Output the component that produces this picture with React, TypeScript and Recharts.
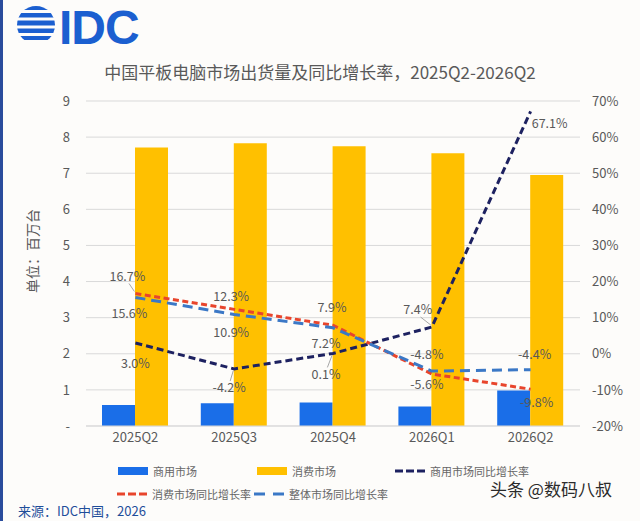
import React from 'react';
import { ComposedChart, Bar, Line, XAxis, YAxis, CartesianGrid, LabelList } from 'recharts';

const categories = ['2025Q2', '2025Q3', '2025Q4', '2026Q1', '2026Q2'];
const commercialUnits = [0.58, 0.63, 0.65, 0.54, 0.98];
const consumerUnits = [7.71, 7.83, 7.75, 7.55, 6.95];
const commercialYoY = [3.0, -4.2, 0.1, 7.4, 67.1];
const consumerYoY = [16.7, 12.3, 7.9, -5.6, -9.8];
const overallYoY = [15.6, 10.9, 7.2, -4.8, -4.4];
const leftTicks = [0, 1, 2, 3, 4, 5, 6, 7, 8, 9];
const rightTicks = [-20, -10, 0, 10, 20, 30, 40, 50, 60, 70];

const data = categories.map((c, i) => ({
  name: c,
  commercial: commercialUnits[i],
  consumer: consumerUnits[i],
  commercialYoY: commercialYoY[i],
  consumerYoY: consumerYoY[i],
  overallYoY: overallYoY[i],
}));

const FONT = '"Noto Sans CJK SC", "Noto Sans", sans-serif';
const GRAY = '#595959';
const C_BLUE = '#1a6ee8';
const C_YELLOW = '#ffc000';
const C_NAVY = '#1d2160';
const C_RED = '#e8452c';
const C_LBLUE = '#3b78c6';

// label placement (dx, dy relative to point) and leader flags
const commercialLabelPos = [[0, 21, 0], [-5, 19, 1], [-7, 21, 1], [-14, -17, 1], [19, 12, 0]];
const consumerLabelPos = [[-8, -17, 1], [-3, -13, 0], [-1, -18, 0], [-5, 11, 0], [6, 13, 0]];
const overallLabelPos = [[-6, 16, 0], [-3, 18, 0], [-7, 16, 0], [-5, -16, 0], [4, -15, 0]];

const makeLabel = (pos: number[][]) => (props: any) => {
  const { x, y, value, index } = props;
  const [dx, dy, leader] = pos[index];
  const lx = x + dx;
  const ly = y + dy;
  const sy = dy > 0 ? 1 : -1;
  return (
    <g key={`lbl-${index}`}>
      {leader ? (
        <line
          x1={lx + dx * -0.2}
          y1={ly - sy * 7}
          x2={x - 1}
          y2={y + sy * 2}
          stroke="#a6a6a6"
          strokeWidth={1}
        />
      ) : null}
      <text x={lx} y={ly} dy="0.35em" textAnchor="middle" fontSize={12.5} fill={GRAY} fontFamily={FONT}>
        {`${Number(value).toFixed(1)}%`}
      </text>
    </g>
  );
};

const Logo = () => (
  <svg width={180} height={56} style={{ position: 'absolute', left: 14, top: 0 }}>
    <defs>
      <clipPath id="globe">
        <circle cx={22} cy={25} r={19} />
      </clipPath>
    </defs>
    <g clipPath="url(#globe)" fill="#1b5fd0">
      <rect x={0} y={6} width={44} height={4} rx={2} />
      <rect x={0} y={13} width={44} height={4.5} rx={2} />
      <rect x={0} y={20.5} width={44} height={5} rx={2} />
      <rect x={0} y={28.5} width={44} height={4.5} rx={2} />
      <rect x={0} y={36} width={44} height={4} rx={2} />
    </g>
    <text x={45} y={44} fontSize={48} fill="#1b5fd0" fontFamily='"Liberation Sans", Arial, sans-serif' fontWeight={700} letterSpacing={-1}>
      IDC
    </text>
  </svg>
);

const legendRow1 = [
  { label: '商用市场', kind: 'bar', color: C_BLUE, left: 118 },
  { label: '消费市场', kind: 'bar', color: C_YELLOW, left: 257 },
  { label: '商用市场同比增长率', kind: 'dash3', color: C_NAVY, left: 395 },
];
const legendRow2 = [
  { label: '消费市场同比增长率', kind: 'dash3', color: C_RED, left: 117 },
  { label: '整体市场同比增长率', kind: 'dash2', color: C_LBLUE, left: 254 },
];

const Swatch = ({ kind, color }: { kind: string; color: string }) => (
  <svg width={30} height={10} style={{ marginRight: 5 }}>
    {kind === 'bar' ? (
      <rect x={0} y={1} width={30} height={8} fill={color} />
    ) : kind === 'dash3' ? (
      <line x1={0} y1={5} x2={30} y2={5} stroke={color} strokeWidth={3} strokeDasharray="8 3" />
    ) : (
      <line x1={0} y1={5} x2={30} y2={5} stroke={color} strokeWidth={3} strokeDasharray="11 8" />
    )}
  </svg>
);

const LegendRow = ({ items, top }: { items: any[]; top: number }) => (
  <>
    {items.map((it) => (
      <div
        key={it.label}
        style={{
          position: 'absolute',
          left: it.left,
          top,
          display: 'flex',
          alignItems: 'center',
          fontSize: 11,
          color: '#666666',
          fontFamily: FONT,
          whiteSpace: 'nowrap',
          lineHeight: '16px',
        }}
      >
        <Swatch kind={it.kind} color={it.color} />
        {it.label}
      </div>
    ))}
  </>
);

export default function App() {
  return (
    <div
      style={{
        position: 'absolute',
        left: 0,
        top: 0,
        width: 640,
        height: 521,
        background: '#fdfcfa',
        overflow: 'hidden',
        fontFamily: FONT,
      }}
    >
      <div style={{ position: 'absolute', left: 0, top: 0, width: 3, height: 521, background: '#2a4c9c' }} />
      <Logo />
      <div
        style={{
          position: 'absolute',
          left: 0,
          width: 640,
          top: 60,
          textAlign: 'center',
          fontSize: 17,
          color: GRAY,
          lineHeight: '24px',
        }}
      >
        中国平板电脑市场出货量及同比增长率，2025Q2-2026Q2
      </div>
      <div style={{ position: 'absolute', left: 0, top: 0 }}>
        <ComposedChart
          width={640}
          height={521}
          data={data}
          margin={{ top: 101, right: 0, left: 46, bottom: 65 }}
          barGap={0}
        >
          <CartesianGrid yAxisId="left" vertical={false} stroke="#d9d9d9" />
          <XAxis
            dataKey="name"
            axisLine={{ stroke: '#d9d9d9' }}
            tickLine={false}
            tickSize={0}
            tickMargin={7}
            height={30}
            tick={{ fontSize: 13, fill: GRAY, fontFamily: FONT }}
          />
          <YAxis
            yAxisId="left"
            domain={[0, 9]}
            ticks={leftTicks}
            interval={0}
            axisLine={false}
            tickLine={false}
            tickSize={0}
            tickMargin={16}
            width={40}
            tick={{ fontSize: 13, fill: GRAY, fontFamily: FONT }}
            tickFormatter={(v: number) => (v === 0 ? '-' : String(v))}
            label={(p: any) => (
              <text
                x={33}
                y={251}
                transform="rotate(-90 33 251)"
                textAnchor="middle"
                dy="0.35em"
                fontSize={14}
                fill={GRAY}
                fontFamily={FONT}
              >
                单位：百万台
              </text>
            )}
          />
          <YAxis
            yAxisId="right"
            orientation="right"
            domain={[-20, 70]}
            ticks={rightTicks}
            interval={0}
            axisLine={false}
            tickLine={false}
            tickSize={0}
            tickMargin={12}
            width={60}
            tick={{ fontSize: 13, fill: GRAY, fontFamily: FONT, textAnchor: 'start' }}
            tickFormatter={(v: number) => `${v}%`}
          />
          <Bar yAxisId="left" dataKey="commercial" fill={C_BLUE} barSize={33} isAnimationActive={false} />
          <Bar yAxisId="left" dataKey="consumer" fill={C_YELLOW} barSize={33} isAnimationActive={false} />
          <Line
            yAxisId="right"
            dataKey="commercialYoY"
            stroke={C_NAVY}
            strokeWidth={3}
            strokeDasharray="7 4"
            dot={false}
            activeDot={false}
            isAnimationActive={false}
          >
            <LabelList dataKey="commercialYoY" content={makeLabel(commercialLabelPos)} />
          </Line>
          <Line
            yAxisId="right"
            dataKey="consumerYoY"
            stroke={C_RED}
            strokeWidth={3}
            strokeDasharray="6 3.5"
            dot={false}
            activeDot={false}
            isAnimationActive={false}
          >
            <LabelList dataKey="consumerYoY" content={makeLabel(consumerLabelPos)} />
          </Line>
          <Line
            yAxisId="right"
            dataKey="overallYoY"
            stroke={C_LBLUE}
            strokeWidth={3}
            strokeDasharray="10 6"
            dot={false}
            activeDot={false}
            isAnimationActive={false}
          >
            <LabelList dataKey="overallYoY" content={makeLabel(overallLabelPos)} />
          </Line>
        </ComposedChart>
      </div>
      <LegendRow items={legendRow1} top={463} />
      <LegendRow items={legendRow2} top={486} />
      <div style={{ position: 'absolute', left: 18, top: 502, fontSize: 13, color: '#1f4e9a', lineHeight: '18px' }}>
        来源：IDC中国，2026
      </div>
      <div style={{ position: 'absolute', left: 490, top: 478, fontSize: 17, color: '#2b2b2b', lineHeight: '22px' }}>
        头条 @数码八叔
      </div>
    </div>
  );
}
